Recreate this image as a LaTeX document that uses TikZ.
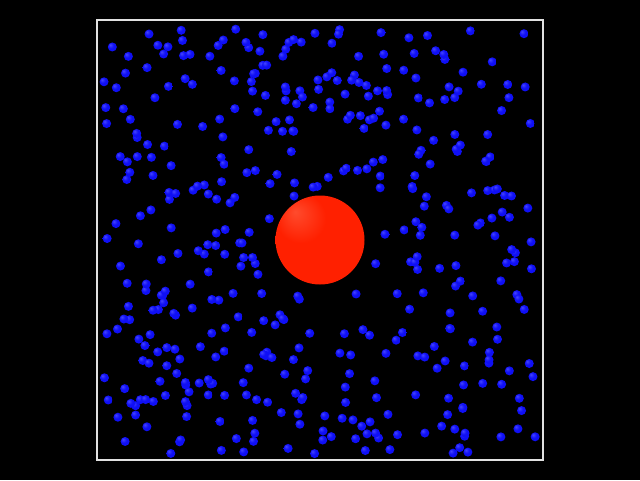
\documentclass[tikz,border=0pt]{standalone}
\usepackage{tikz}

\definecolor{ballred}{RGB}{255,32,0}
\definecolor{ballhl}{RGB}{255,75,45}
\definecolor{dotblue}{RGB}{15,15,245}
\definecolor{dothl}{RGB}{70,70,255}
\definecolor{boxline}{RGB}{225,225,225}

% shaded balls, highlight up and left
\pgfdeclareradialshading{redball}{\pgfpoint{-14bp}{16bp}}{color(0bp)=(ballhl); color(14bp)=(ballred); color(60bp)=(ballred)}
\pgfdeclareradialshading{blueball}{\pgfpoint{-12bp}{12bp}}{color(0bp)=(dothl); color(16bp)=(dotblue); color(60bp)=(dotblue)}

\begin{document}
\begin{tikzpicture}[x=1pt, y=-1pt,
    grain/.style={shading=blueball},
    bigball/.style={shading=redball}]
    \useasboundingbox (0,0) rectangle (640,480);
    \fill[black] (0,0) rectangle (640,480);
    \draw[boxline, line width=2pt] (97,20) rectangle (543,460);

    % the small molecules
    \pgfmathsetseed{7}
    \foreach \i in {1,...,450}{
        \pgfmathsetmacro{\px}{104+432*rnd}
        \pgfmathsetmacro{\py}{26+428*rnd}
        \pgfmathsetmacro{\far}{veclen(\px-320,\py-240)>50 ? 1 : 0}
        \ifnum\far=1
            \shade[grain] (\px,\py) circle (4.5pt);
        \fi
    }

    % the big particle
    \shade[bigball] (320,240) circle (44.5pt);
\end{tikzpicture}
\end{document}
